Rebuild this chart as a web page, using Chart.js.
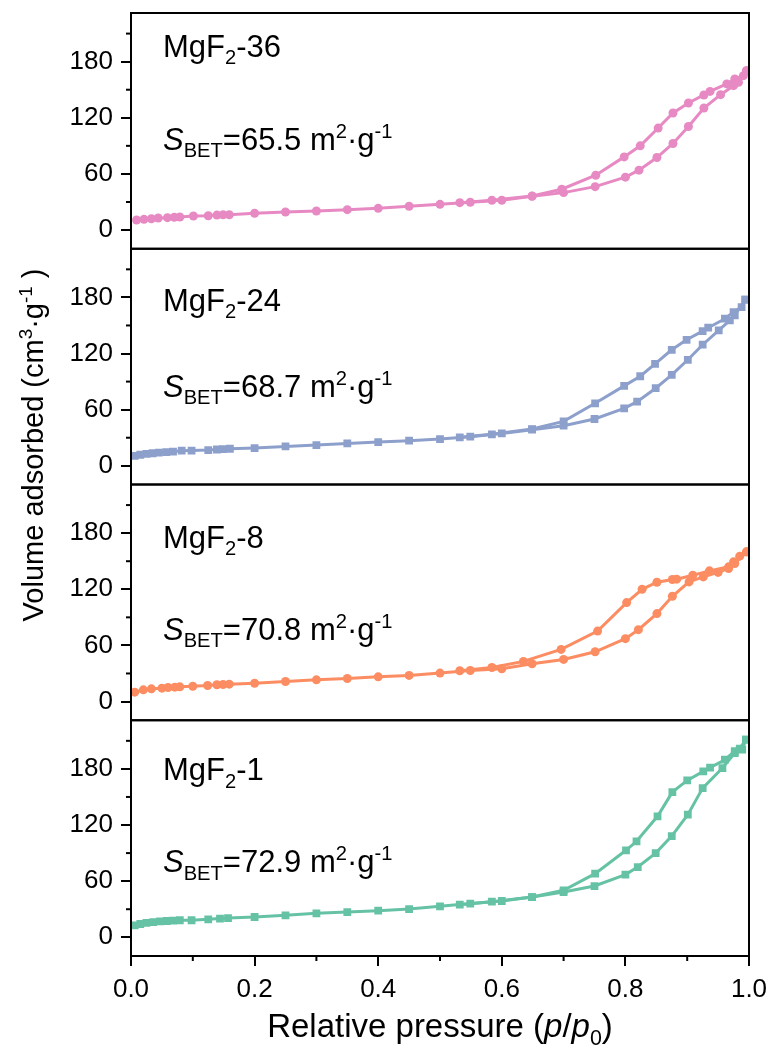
<!DOCTYPE html>
<html>
<head>
<meta charset="utf-8">
<script src="https://cdn.jsdelivr.net/npm/chart.js@4.4.1/dist/chart.umd.min.js"></script>
<style>
  html, body { margin: 0; padding: 0; background: #fff; }
  #wrap { position: relative; width: 771px; height: 1054px; }
</style>
</head>
<body>
<div id="wrap"><canvas id="c" width="771" height="1054"></canvas></div>
<script>
// ---------------- DATA ----------------
const sampleNames = ['36', '24', '8', '1'];
const sBetValues = ['65.5', '68.7', '70.8', '72.9'];
const xTickValues = [0, 0.2, 0.4, 0.6, 0.8, 1.0];
const xMinorTickValues = [0.1, 0.3, 0.5, 0.7, 0.9];
const yTickValues = [0, 60, 120, 180];
const yMinorTickValues = [30, 90, 150, 210];

// MgF2-36
const p36Ads = [0.009,0.021,0.033,0.044,0.059,0.070,0.079,0.101,0.125,0.139,0.149,0.159,0.20,0.25,0.30,0.35,0.40,0.45,0.50,0.549,0.60,0.649,0.70,0.751,0.80,0.822,0.851,0.877,0.902,0.927,0.954,0.975,0.983,0.996];
const v36Ads = [10.7,11.4,12.1,12.9,13.2,13.6,13.9,15.0,15.3,16.0,16.4,16.4,17.9,19.3,20.4,21.8,23.2,25.4,27.5,29.7,31.8,36.1,40.0,46.4,56.5,64.0,77.5,92.5,110.7,130.4,144.7,154.3,157.9,170.4];
const p36Des = [0.996,0.991,0.977,0.964,0.937,0.927,0.902,0.877,0.853,0.824,0.798,0.752,0.697,0.649,0.584,0.532];
const v36Des = [170.4,165.0,161.5,156.2,148.2,144.4,135.8,125.1,109.0,90.0,78.2,58.6,43.6,36.4,31.8,29.3];

// MgF2-24
const p24Ads = [0.006,0.015,0.025,0.035,0.045,0.057,0.068,0.082,0.098,0.125,0.139,0.149,0.16,0.20,0.25,0.30,0.35,0.40,0.45,0.50,0.549,0.60,0.649,0.70,0.75,0.798,0.819,0.849,0.875,0.901,0.925,0.951,0.969,0.977,0.994];
const v24Ads = [10.7,11.8,12.7,13.4,14.0,14.6,15.2,16.1,16.3,16.8,17.4,17.8,18.2,19.0,20.7,22.2,23.9,25.4,26.8,28.6,31.1,34.6,38.6,42.9,50.0,61.4,68.6,82.9,97.2,113.3,129.4,144.7,155.4,160.8,177.6];
const p24Des = [0.994,0.988,0.975,0.961,0.934,0.925,0.899,0.875,0.848,0.824,0.798,0.751,0.70,0.649,0.584,0.532];
const v24Des = [177.6,169.7,164.3,157.2,147.6,144.0,134.7,124.0,109.0,95.7,85.4,66.8,47.5,39.3,33.6,30.4];

// MgF2-8
const p8Ads = [0.006,0.02,0.033,0.05,0.06,0.071,0.079,0.10,0.124,0.139,0.149,0.159,0.20,0.25,0.30,0.35,0.40,0.45,0.50,0.549,0.60,0.649,0.70,0.751,0.80,0.821,0.851,0.876,0.903,0.926,0.95,0.967,0.977,0.996];
const v8Ads = [10.0,12.5,13.6,14.3,15.0,15.4,15.7,16.4,17.1,17.9,18.2,18.6,19.6,21.4,23.2,24.6,26.4,27.9,30.4,33.2,35.0,40.4,45.0,53.2,67.2,76.8,94.0,112.5,127.9,133.2,138.0,142.2,147.6,160.0];
const p8Des = [0.996,0.985,0.975,0.967,0.936,0.909,0.883,0.876,0.851,0.827,0.802,0.755,0.696,0.635,0.584,0.532];
const v8Des = [160.0,155.4,149.3,144.0,139.7,135.0,130.8,130.4,127.5,120.0,105.8,75.3,55.7,42.9,36.4,32.9];

// MgF2-1
const p1Ads = [0.006,0.015,0.025,0.036,0.047,0.058,0.068,0.079,0.098,0.125,0.144,0.157,0.20,0.25,0.30,0.35,0.40,0.45,0.50,0.549,0.60,0.649,0.70,0.75,0.80,0.82,0.849,0.875,0.901,0.925,0.957,0.977,0.985,0.995];
const v1Ads = [12.8,14.2,15.3,16.3,16.9,17.4,17.8,18.2,18.2,19.2,20.0,20.6,21.7,23.5,25.6,27.0,28.5,30.2,33.1,36.0,38.8,43.0,48.4,54.8,67.0,75.1,90.0,108.2,131.1,159.5,180.9,196.9,201.6,211.2];
const p1Des = [0.995,0.989,0.977,0.961,0.937,0.926,0.90,0.876,0.852,0.818,0.801,0.751,0.70,0.649,0.584,0.532];
const v1Des = [211.2,200.5,199.0,189.8,181.3,177.4,167.7,155.2,129.3,102.6,93.0,68.0,50.2,43.0,38.1,34.9];

// ---------------- STYLE ----------------
const FONT = '"Liberation Sans", Arial, Helvetica, sans-serif';
const colors = ['#E78AC3', '#8DA0CB', '#FC8D62', '#66C2A5'];
const markers = ['circle', 'rect', 'circle', 'rect'];
const axisIds = ['y1', 'y2', 'y3', 'y4'];            // top to bottom
const labelOffsets = [[44, 137], [62, 148], [63, 155], [60, 152]]; // text baselines below each panel top

const series = [
  [p36Ads, v36Ads, p36Des, v36Des],
  [p24Ads, v24Ads, p24Des, v24Des],
  [p8Ads, v8Ads, p8Des, v8Des],
  [p1Ads, v1Ads, p1Des, v1Des]
];

function pts(xs, ys) { return xs.map((x, i) => ({ x: x, y: ys[i] })); }

const datasets = [];
series.forEach((s, i) => {
  const base = {
    yAxisID: axisIds[i], xAxisID: 'x',
    borderColor: colors[i], backgroundColor: colors[i],
    pointBackgroundColor: colors[i], pointBorderColor: colors[i],
    borderWidth: 3, pointBorderWidth: 0,
    pointStyle: markers[i], pointRadius: markers[i] === 'rect' ? 5.5 : 4.5,
    showLine: true, tension: 0, fill: false
  };
  datasets.push(Object.assign({ label: 'MgF2-' + sampleNames[i] + ' adsorption', data: pts(s[0], s[1]) }, base));
  datasets.push(Object.assign({ label: 'MgF2-' + sampleNames[i] + ' desorption', data: pts(s[2], s[3]) }, base));
});

const tickFont = { family: FONT, size: 26 };

const scales = {
  x: {
    type: 'linear', position: 'bottom', min: 0, max: 1,
    afterBuildTicks: s => { s.ticks = xTickValues.map(v => ({ value: v })); },
    afterFit: s => { s.height = 98; s.paddingLeft = 0; s.paddingRight = 0; },
    ticks: { font: tickFont, color: '#000', padding: 8, callback: v => Number(v).toFixed(1), maxRotation: 0 },
    grid: { drawOnChartArea: false, tickLength: 10, color: '#000', lineWidth: 2 },
    border: { display: true, color: '#000', width: 2 }
  }
};
// stacked axes are placed bottom-up in the order they are listed
axisIds.slice().reverse().forEach(id => {
  scales[id] = {
    type: 'linear', position: 'left', stack: 'panels', stackWeight: 1,
    min: -20, max: 232,
    afterBuildTicks: s => { s.ticks = yTickValues.map(v => ({ value: v })); },
    afterFit: s => { s.width = 131; s.paddingTop = 0; s.paddingBottom = 0; },
    ticks: { font: tickFont, color: '#000', padding: 8 },
    grid: { drawOnChartArea: false, tickLength: 10, color: '#000', lineWidth: 2 },
    border: { display: true, color: '#000', width: 2 }
  };
});

function richWidth(ctx, segs, size) {
  let w = 0;
  segs.forEach(s => {
    const fs = (s.sub || s.sup) ? size * 0.65 : size;
    ctx.font = (s.i ? 'italic ' : '') + fs + 'px ' + FONT;
    w += ctx.measureText(s.t).width;
  });
  return w;
}
function drawRich(ctx, x, y, segs, size) {
  let cx = x;
  segs.forEach(s => {
    const fs = (s.sub || s.sup) ? size * 0.65 : size;
    ctx.font = (s.i ? 'italic ' : '') + fs + 'px ' + FONT;
    const dy = s.sub ? size * 0.24 : (s.sup ? -size * 0.38 : 0);
    ctx.fillText(s.t, cx, y + dy);
    cx += ctx.measureText(s.t).width;
  });
}

const decor = {
  id: 'decor',
  afterDraw(chart) {
    const ctx = chart.ctx, a = chart.chartArea;
    ctx.save();
    ctx.strokeStyle = '#000';
    ctx.lineWidth = 2;
    axisIds.forEach((id, i) => {
      const s = chart.scales[id];
      ctx.strokeRect(a.left, s.top, a.right - a.left, s.bottom - s.top);
      yMinorTickValues.forEach(v => {
        const py = s.getPixelForValue(v);
        ctx.beginPath(); ctx.moveTo(a.left - 5, py); ctx.lineTo(a.left, py); ctx.stroke();
      });
      ctx.fillStyle = '#000';
      ctx.textBaseline = 'alphabetic';
      ctx.textAlign = 'left';
      drawRich(ctx, 163, s.top + labelOffsets[i][0],
        [{ t: 'MgF' }, { t: '2', sub: true }, { t: '-' + sampleNames[i] }], 31);
      drawRich(ctx, 163, s.top + labelOffsets[i][1],
        [{ t: 'S', i: true }, { t: 'BET', sub: true }, { t: '=' + sBetValues[i] + ' m' }, { t: '2', sup: true }, { t: '·g' }, { t: '-1', sup: true }], 31);
    });
    const xs = chart.scales.x;
    xMinorTickValues.forEach(v => {
      const px = xs.getPixelForValue(v);
      ctx.beginPath(); ctx.moveTo(px, a.bottom); ctx.lineTo(px, a.bottom + 5); ctx.stroke();
    });
    // x title
    const xt = [{ t: 'Relative pressure (' }, { t: 'p', i: true }, { t: '/' }, { t: 'p', i: true }, { t: '0', sub: true }, { t: ')' }];
    const xw = richWidth(ctx, xt, 33);
    drawRich(ctx, (a.left + a.right) / 2 - xw / 2, 1037, xt, 33);
    // y title
    const yt = [{ t: 'Volume adsorbed (cm' }, { t: '3', sup: true }, { t: '·g' }, { t: '-1', sup: true }, { t: ' )' }];
    const yw = richWidth(ctx, yt, 29);
    ctx.translate(43, 445);
    ctx.rotate(-Math.PI / 2);
    drawRich(ctx, -yw / 2, 0, yt, 29);
    ctx.restore();
  }
};

new Chart(document.getElementById('c'), {
  type: 'scatter',
  data: { datasets: datasets },
  options: {
    responsive: false, animation: false, devicePixelRatio: 1,
    layout: { padding: { top: 13, right: 22, bottom: 0, left: 0 } },
    plugins: { legend: { display: false }, tooltip: { enabled: false } },
    scales: scales
  },
  plugins: [decor]
});
</script>
</body>
</html>
